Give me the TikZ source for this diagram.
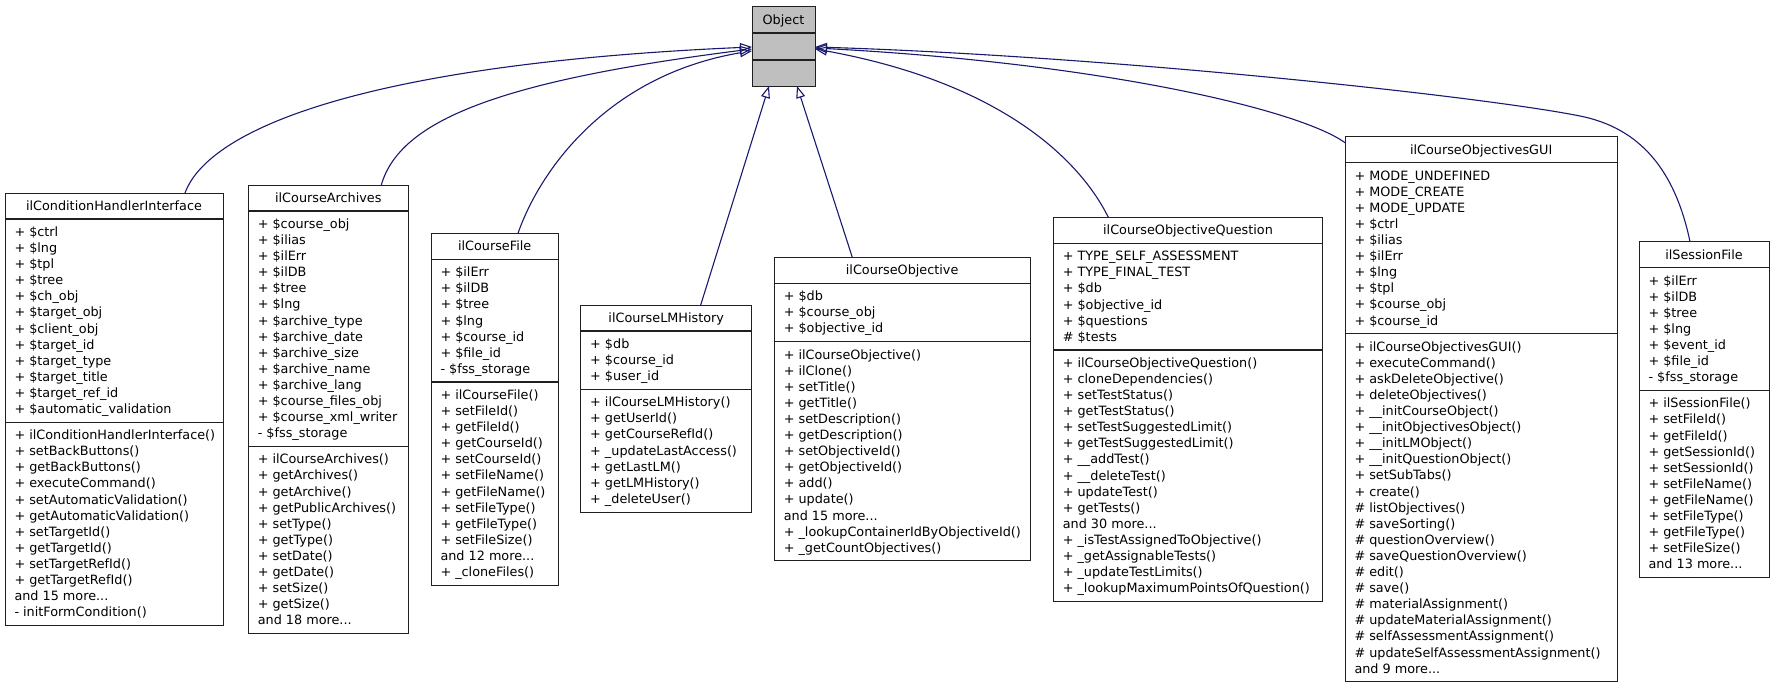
\documentclass[tikz,border=0pt]{standalone}
\usepackage{fontspec}
\setmainfont{DejaVu Sans}
\usetikzlibrary{arrows.meta,bending}
\definecolor{edgeblue}{HTML}{191970}
\definecolor{objgray}{HTML}{BFBFBF}
\definecolor{boxline}{HTML}{202020}
\newcommand\mydots{...}
\tikzset{
  classbox/.style={draw=boxline, line width=1pt, fill=white, inner sep=0pt, outer sep=0pt},
  divider/.style={draw=boxline, line width=1.4pt},
  umltext/.style={font=\fontsize{12.8}{16.1}\selectfont, inner sep=0pt, outer sep=0pt},
  inherit/.style={draw=edgeblue, line width=1.1pt, -{Triangle[open, length=12pt, width=9pt]}},
}
\newcommand\umlclass[9]{%
  \pgfmathsetmacro\clsHB{#6*16.1+10}%
  \pgfmathsetmacro\clsHC{#8*16.1+10}%
  \pgfmathsetmacro\clsHT{26+\clsHB+\clsHC}%
  \node[classbox, minimum width=#4pt, minimum height=\clsHT pt, anchor=north west] (#1) at (#2,#3) {};
  \draw[divider] (#2,#3+26) -- (#2+#4,#3+26);
  \draw[divider] (#2,#3+26+\clsHB) -- (#2+#4,#3+26+\clsHB);
  \node[umltext, anchor=base] (#1-title) at (#2+#4/2,#3+17.5) {#5};
  \foreach \clsline [count=\clsidx] in {#7} {
    \node[umltext, anchor=base west] (#1-a\clsidx) at (#2+9.5,#3+26+5+\clsidx*16.1-16.1+12.4) {\clsline};
  }
  \foreach \clsline [count=\clsidx] in {#9} {
    \node[umltext, anchor=base west] (#1-m\clsidx) at (#2+9.5,#3+26+\clsHB+5+\clsidx*16.1-16.1+12.4) {\clsline};
  }
}
\begin{document}
\begin{tikzpicture}[x=1pt,y=-1pt]
\useasboundingbox (0,0) rectangle (1773,688);
\fill[white] (0,0) rectangle (1773,688);

% base class
\node[classbox, fill=objgray, minimum width=63pt, minimum height=80pt, anchor=north west] (obj) at (752,6) {};
\draw[divider] (752,33) -- (815,33);
\draw[divider] (752,60) -- (815,60);
\node[umltext, anchor=base] (obj-title) at (783.5,24) {Object};

\umlclass{c1}{5}{193}{218}{ilConditionHandlerInterface}{12}%
{{+ \$ctrl},{+ \$lng},{+ \$tpl},{+ \$tree},{+ \$ch\_obj},{+ \$target\_obj},{+ \$client\_obj},{+ \$target\_id},{+ \$target\_type},{+ \$target\_title},{+ \$target\_ref\_id},{+ \$automatic\_validation}}%
{12}%
{{+ ilConditionHandlerInterface()},{+ setBackButtons()},{+ getBackButtons()},{+ executeCommand()},{+ setAutomaticValidation()},{+ getAutomaticValidation()},{+ setTargetId()},{+ getTargetId()},{+ setTargetRefId()},{+ getTargetRefId()},{and 15 more\mydots},{- initFormCondition()}}

\umlclass{c2}{248.3}{185}{160}{ilCourseArchives}{14}%
{{+ \$course\_obj},{+ \$ilias},{+ \$ilErr},{+ \$ilDB},{+ \$tree},{+ \$lng},{+ \$archive\_type},{+ \$archive\_date},{+ \$archive\_size},{+ \$archive\_name},{+ \$archive\_lang},{+ \$course\_files\_obj},{+ \$course\_xml\_writer},{- \$fss\_storage}}%
{11}%
{{+ ilCourseArchives()},{+ getArchives()},{+ getArchive()},{+ getPublicArchives()},{+ setType()},{+ getType()},{+ setDate()},{+ getDate()},{+ setSize()},{+ getSize()},{and 18 more\mydots}}

\umlclass{c3}{431}{233.3}{127.3}{ilCourseFile}{7}%
{{+ \$ilErr},{+ \$ilDB},{+ \$tree},{+ \$lng},{+ \$course\_id},{+ \$file\_id},{- \$fss\_storage}}%
{12}%
{{+ ilCourseFile()},{+ setFileId()},{+ getFileId()},{+ getCourseId()},{+ setCourseId()},{+ setFileName()},{+ getFileName()},{+ setFileType()},{+ getFileType()},{+ setFileSize()},{and 12 more\mydots},{+ \_cloneFiles()}}

\umlclass{c4}{580.7}{305}{171}{ilCourseLMHistory}{3}%
{{+ \$db},{+ \$course\_id},{+ \$user\_id}}%
{7}%
{{+ ilCourseLMHistory()},{+ getUserId()},{+ getCourseRefId()},{+ \_updateLastAccess()},{+ getLastLM()},{+ getLMHistory()},{+ \_deleteUser()}}

\umlclass{c5}{774.3}{257.3}{255.7}{ilCourseObjective}{3}%
{{+ \$db},{+ \$course\_obj},{+ \$objective\_id}}%
{13}%
{{+ ilCourseObjective()},{+ ilClone()},{+ setTitle()},{+ getTitle()},{+ setDescription()},{+ getDescription()},{+ setObjectiveId()},{+ getObjectiveId()},{+ add()},{+ update()},{and 15 more\mydots},{+ \_lookupContainerIdByObjectiveId()},{+ \_getCountObjectives()}}

\umlclass{c6}{1053.3}{217.3}{269.4}{ilCourseObjectiveQuestion}{6}%
{{+ TYPE\_SELF\_ASSESSMENT},{+ TYPE\_FINAL\_TEST},{+ \$db},{+ \$objective\_id},{+ \$questions},{\# \$tests}}%
{15}%
{{+ ilCourseObjectiveQuestion()},{+ cloneDependencies()},{+ setTestStatus()},{+ getTestStatus()},{+ setTestSuggestedLimit()},{+ getTestSuggestedLimit()},{+ \_\_addTest()},{+ \_\_deleteTest()},{+ updateTest()},{+ getTests()},{and 30 more\mydots},{+ \_isTestAssignedToObjective()},{+ \_getAssignableTests()},{+ \_updateTestLimits()},{+ \_lookupMaximumPointsOfQuestion()}}

\umlclass{c7}{1345}{136.7}{272.3}{ilCourseObjectivesGUI}{10}%
{{+ MODE\_UNDEFINED},{+ MODE\_CREATE},{+ MODE\_UPDATE},{+ \$ctrl},{+ \$ilias},{+ \$ilErr},{+ \$lng},{+ \$tpl},{+ \$course\_obj},{+ \$course\_id}}%
{21}%
{{+ ilCourseObjectivesGUI()},{+ executeCommand()},{+ askDeleteObjective()},{+ deleteObjectives()},{+ \_\_initCourseObject()},{+ \_\_initObjectivesObject()},{+ \_\_initLMObject()},{+ \_\_initQuestionObject()},{+ setSubTabs()},{+ create()},{\# listObjectives()},{\# saveSorting()},{\# questionOverview()},{\# saveQuestionOverview()},{\# edit()},{\# save()},{\# materialAssignment()},{\# updateMaterialAssignment()},{\# selfAssessmentAssignment()},{\# updateSelfAssessmentAssignment()},{and 9 more\mydots}}

\umlclass{c8}{1639}{241.7}{130}{ilSessionFile}{7}%
{{+ \$ilErr},{+ \$ilDB},{+ \$tree},{+ \$lng},{+ \$event\_id},{+ \$file\_id},{- \$fss\_storage}}%
{11}%
{{+ ilSessionFile()},{+ setFileId()},{+ getFileId()},{+ getSessionId()},{+ setSessionId()},{+ setFileName()},{+ getFileName()},{+ setFileType()},{+ getFileType()},{+ setFileSize()},{and 13 more\mydots}}

% inheritance edges
\draw[inherit] ([xshift=180pt]c1.north west) .. controls (210,125) and (380,62) .. ([yshift=-1pt]obj.west);
\draw[inherit] ([xshift=133pt]c2.north west) .. controls (400,120) and (500,80) .. ([yshift=-3pt]obj.west);
\draw[inherit] ([xshift=87pt]c3.north west) .. controls (540,170) and (610,70) .. ([yshift=-5pt]obj.west);
\draw[inherit] ([xshift=120pt]c4.north west) -- ([xshift=17pt]obj.south west);
\draw[inherit] ([xshift=78pt]c5.north west) -- ([xshift=45pt]obj.south west);
\draw[inherit] ([xshift=55pt]c6.north west) .. controls (1080,160) and (1000,80) .. ([yshift=-3pt]obj.east);
\draw[inherit] ([yshift=-6pt]c7.north west) .. controls (1300,110) and (1100,62) .. ([yshift=-2pt]obj.east);
\draw[inherit] ([xshift=51pt]c8.north west) .. controls (1675,170) and (1640,128) .. (1580,116) .. controls (1480,96) and (1100,55) .. ([yshift=-1pt]obj.east);
\end{tikzpicture}
\end{document}
